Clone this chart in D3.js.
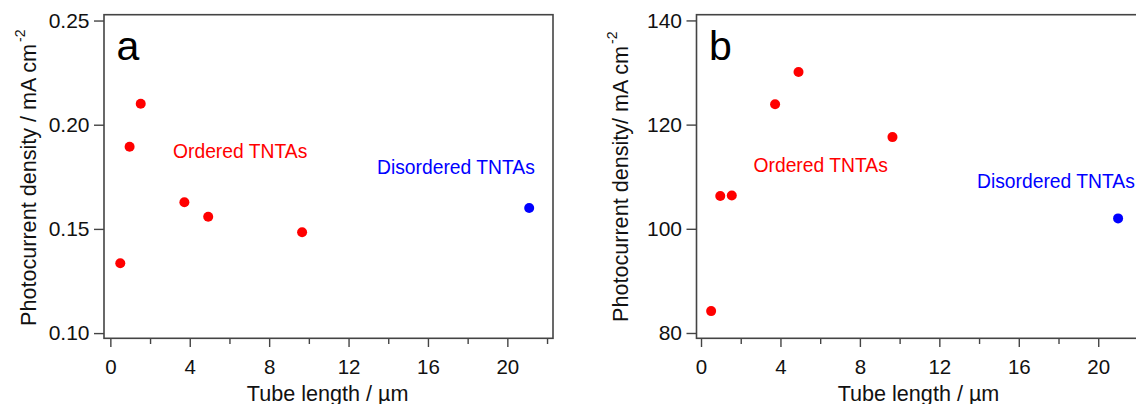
<!DOCTYPE html>
<html>
<head>
<meta charset="utf-8">
<script src="https://cdn.jsdelivr.net/npm/d3@7"></script>
<style>
  body { margin: 0; background: #fff; }
  svg { display: block; font-family: "Liberation Sans", Arial, sans-serif; }
</style>
</head>
<body>
<svg width="1136" height="404"></svg>
<script>
// values
var xTicks = [0, 4, 8, 12, 16, 20];
var xMinor = [2, 6, 10, 14, 18, 22];

var lengthA = [0.5, 0.97, 1.53, 3.73, 4.93, 9.66];
var orderedA = [0.1335, 0.1894, 0.2101, 0.1628, 0.1558, 0.1484];
var disLengthA = [21.1];
var disorderedA = [0.160];
var yTicksA = [0.10, 0.15, 0.20, 0.25];

var lengthB = [0.51, 0.97, 1.55, 3.73, 4.91, 9.64];
var orderedB = [84.2, 106.3, 106.4, 123.9, 130.1, 117.6];
var disLengthB = [21.0];
var disorderedB = [102.0];
var yTicksB = [80, 100, 120, 140];

var svg = d3.select("svg");
var frameColor = "#444";

function drawPanel(p) {
  var g = svg.append("g");
  var x = d3.scaleLinear().domain(p.xDomain).range([p.left, p.left + 449]);
  var y = d3.scaleLinear().domain(p.yDomain).range([338.3, 14.7]);

  // x axis: major + minor ticks
  var xAxis = g.append("g")
    .attr("transform", "translate(0,339)")
    .call(d3.axisBottom(x).tickValues(xTicks).tickSize(8).tickPadding(12.5).tickFormat(d3.format("d")));
  xAxis.select(".domain").remove();
  xAxis.selectAll("line").attr("stroke", frameColor).attr("stroke-width", 1.4);
  xAxis.selectAll("text").attr("font-size", 20.5).attr("fill", "#111").attr("font-family", null);

  var xMin = g.append("g")
    .attr("transform", "translate(0,339)")
    .call(d3.axisBottom(x).tickValues(xMinor.filter(function (d) { return d < p.xDomain[1]; }))
      .tickSize(5).tickFormat(""));
  xMin.select(".domain").remove();
  xMin.selectAll("line").attr("stroke", frameColor).attr("stroke-width", 1.4);

  // y axis
  var yAxis = g.append("g")
    .attr("transform", "translate(" + p.left + ",0)")
    .call(d3.axisLeft(y).tickValues(p.yTicks).tickSize(10).tickPadding(4.5).tickFormat(p.yFormat));
  yAxis.select(".domain").remove();
  yAxis.selectAll("line").attr("stroke", frameColor).attr("stroke-width", 1.4);
  yAxis.selectAll("text").attr("font-size", 21).attr("fill", "#111").attr("font-family", null);

  // frame
  g.append("rect")
    .attr("x", p.left).attr("y", 14.7)
    .attr("width", 449).attr("height", 323.6)
    .attr("fill", "none").attr("stroke", frameColor).attr("stroke-width", 1.6);

  // points
  g.selectAll("circle.ord")
    .data(p.lengths)
    .enter()
    .append("circle")
    .attr("class", "ord")
    .attr("cx", function (d) { return x(d); })
    .attr("cy", function (d, i) { return y(p.ordered[i]); })
    .attr("r", 5)
    .attr("fill", "#ff0000");

  g.selectAll("circle.dis")
    .data(p.disLengths)
    .enter()
    .append("circle")
    .attr("class", "dis")
    .attr("cx", function (d) { return x(d); })
    .attr("cy", function (d, i) { return y(p.disordered[i]); })
    .attr("r", 5)
    .attr("fill", "#0000ff");

  // labels
  g.append("text").attr("x", p.left + 12.5).attr("y", 59.5)
    .attr("font-size", 41).attr("fill", "#000").text(p.letter);

  g.append("text").attr("x", p.ordLabel[0]).attr("y", p.ordLabel[1])
    .attr("font-size", 19.3).attr("fill", "#ff0000").text("Ordered TNTAs");
  g.append("text").attr("x", p.disLabel[0]).attr("y", p.disLabel[1])
    .attr("font-size", 19.3).attr("fill", "#0000ff").text("Disordered TNTAs");

  var yt = g.append("text")
    .attr("transform", "translate(" + p.titleX + "," + p.titleY + ") rotate(-90)")
    .attr("font-size", 21.6).attr("fill", "#111");
  yt.append("tspan").text(p.yTitle);
  yt.append("tspan").attr("font-size", 14).attr("dx", 2).attr("dy", -11).text("-2");

  g.append("text")
    .attr("x", x(10.95)).attr("y", 401)
    .attr("text-anchor", "middle")
    .attr("font-size", 21.6).attr("fill", "#111")
    .text("Tube length / \u00b5m");
}

drawPanel({
  left: 104, xDomain: [-0.32, 22.3], yDomain: [0.0975, 0.2528],
  yTicks: yTicksA, yFormat: d3.format(".2f"),
  lengths: lengthA, ordered: orderedA, disLengths: disLengthA, disordered: disorderedA,
  letter: "a", ordLabel: [173, 157.7], disLabel: [377, 174],
  titleX: 35.5, titleY: 326, yTitle: "Photocurrent density / mA cm"
});

drawPanel({
  left: 696.5, xDomain: [-0.227, 22.38], yDomain: [78.98, 141.1],
  yTicks: yTicksB, yFormat: d3.format("d"),
  lengths: lengthB, ordered: orderedB, disLengths: disLengthB, disordered: disorderedB,
  letter: "b", ordLabel: [753.5, 172], disLabel: [977, 187.7],
  titleX: 628, titleY: 322, yTitle: "Photocurrent density/ mA cm"
});
</script>
</body>
</html>
